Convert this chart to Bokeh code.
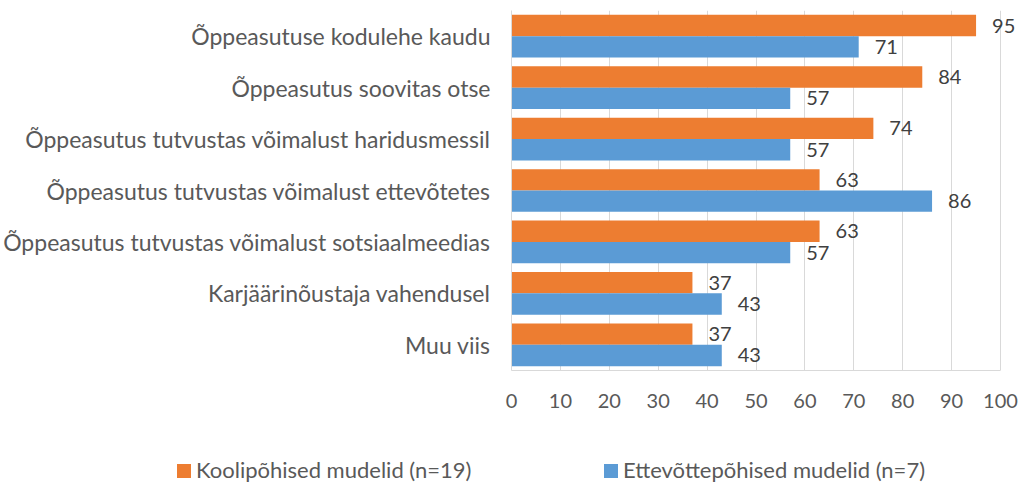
from bokeh.plotting import figure
from bokeh.layouts import column
from bokeh.models import ColumnDataSource, FactorRange, LabelSet, FixedTicker, Div, Range1d
from bokeh.transform import dodge
from bokeh.core.properties import value
from bokeh.embed import file_html
from bokeh.resources import INLINE

categories = [
    "Õppeasutuse kodulehe kaudu",
    "Õppeasutus soovitas otse",
    "Õppeasutus tutvustas võimalust haridusmessil",
    "Õppeasutus tutvustas võimalust ettevõtetes",
    "Õppeasutus tutvustas võimalust sotsiaalmeedias",
    "Karjäärinõustaja vahendusel",
    "Muu viis",
]
kool = [95, 84, 74, 63, 63, 37, 37]
ettev = [71, 57, 57, 86, 57, 43, 43]
series_names = ["Koolipõhised mudelid (n=19)", "Ettevõttepõhised mudelid (n=7)"]
x_ticks = [0, 10, 20, 30, 40, 50, 60, 70, 80, 90, 100]

FONT = "Lato"
FS_TEXT = "23px"
FS_LEG = "22px"
FS_NUM = "20px"
ORANGE = "#ED7D31"
BLUE = "#5B9BD5"
colors = [ORANGE, BLUE]

src = ColumnDataSource(dict(cat=categories, kool=kool, ettev=ettev,
                            kool_t=[str(v) for v in kool], ettev_t=[str(v) for v in ettev]))

# frame extends to the right edge so data labels past 100 are not clipped
p = figure(width=1023, height=440, output_backend="svg", toolbar_location=None,
           y_range=FactorRange(factors=list(reversed(categories)), range_padding=0),
           x_range=Range1d(0, 104.7), min_border_left=509, min_border_right=0, min_border_top=10,
           min_border_bottom=70)
p.outline_line_color = None

BH = 0.415
p.hbar(y=dodge("cat", BH / 2, range=p.y_range), right="kool", left=0, height=BH,
       source=src, color=ORANGE, line_color=None)
p.hbar(y=dodge("cat", -BH / 2, range=p.y_range), right="ettev", left=0, height=BH,
       source=src, color=BLUE, line_color=None)

for col, txt, off in [("kool", "kool_t", BH / 2), ("ettev", "ettev_t", -BH / 2)]:
    lab = LabelSet(x=col, y=dodge("cat", off, range=p.y_range), text=txt, source=src,
                   x_offset=16, text_baseline="middle", text_align="left",
                   text_font=value(FONT), text_font_size=FS_NUM, text_color="#404040")
    p.add_layout(lab)

p.xaxis.ticker = FixedTicker(ticks=x_ticks)
p.xaxis.bounds = (0, 100)
p.xaxis.axis_line_color = "#D9D9D9"
p.xaxis.major_tick_line_color = None
p.xaxis.minor_tick_line_color = None
p.xaxis.major_label_text_font = FONT
p.xaxis.major_label_text_font_size = FS_NUM
p.xaxis.major_label_text_color = "#595959"
p.xaxis.major_label_standoff = 17

p.yaxis.axis_line_color = "#D9D9D9"
p.yaxis.major_tick_line_color = None
p.yaxis.minor_tick_line_color = None
p.yaxis.major_label_text_font = FONT
p.yaxis.major_label_text_font_size = FS_TEXT
p.yaxis.major_label_text_color = "#595959"
p.yaxis.major_label_standoff = 15

p.xgrid.grid_line_color = "#D9D9D9"
p.xgrid.bounds = (0, 100)
p.ygrid.grid_line_color = None

# legend strip (HTML)
sq_left = [177, 604]
txt_left = [196, 623]
parts = []
for name, c, sl, tl in zip(series_names, colors, sq_left, txt_left):
    parts.append(f'<span style="position:absolute;left:{sl}px;top:24px;width:14px;height:14px;background:{c};"></span>')
    parts.append(f'<span style="position:absolute;left:{tl}px;top:19px;line-height:22px;white-space:nowrap;">{name}</span>')
html = ('<div style="position:relative;width:1023px;height:43px;font-family:Lato;'
        f'font-size:{FS_LEG};color:#595959;">' + "".join(parts) + '</div>')
leg = Div(text=html, width=1023, height=43, margin=0)

open("out.html", "w").write(file_html(column(p, leg, spacing=0), INLINE))
